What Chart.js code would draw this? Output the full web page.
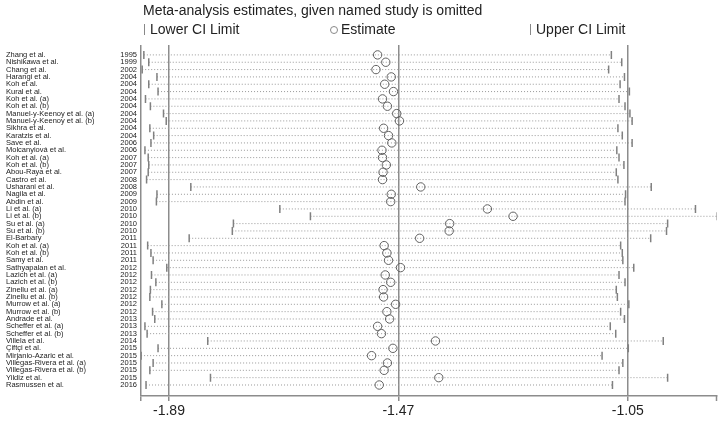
<!DOCTYPE html>
<html>
<head>
<meta charset="utf-8">
<script src="https://cdn.jsdelivr.net/npm/chart.js@4"></script>
<style>
  html, body { margin: 0; padding: 0; background: #fff; }
  #wrap { width: 722px; height: 422px; position: relative; }
</style>
</head>
<body>
<div id="wrap"><canvas id="chart"></canvas></div>
<script>
const studies = [
  'Zhang et al.', 'Nishikawa et al.', 'Chang et al.', 'Harangi et al.', 'Koh et al.', 'Kural et al.',
  'Koh et al. (a)', 'Koh et al. (b)', 'Manuel-y-Keenoy et al. (a)', 'Manuel-y-Keenoy et al. (b)',
  'Sikhra et al.', 'Karatzis et al.', 'Save et al.', 'Molcanyiová et al.', 'Koh et al. (a)', 'Koh et al. (b)',
  'Abou-Raya et al.', 'Castro et al.', 'Usharani et al.', 'Nagila et al.', 'Abdin et al.', 'Li et al. (a)',
  'Li et al. (b)', 'Su et al. (a)', 'Su et al. (b)', 'El-Barbary', 'Koh et al. (a)', 'Koh et al. (b)',
  'Samy et al.', 'Sathyapalan et al.', 'Lazich et al. (a)', 'Lazich et al. (b)', 'Zinellu et al. (a)',
  'Zinellu et al. (b)', 'Murrow et al. (a)', 'Murrow et al. (b)', 'Andrade et al.', 'Scheffer et al. (a)',
  'Scheffer et al. (b)', 'Villela et al.', 'Çiftçi et al.', 'Mirjanio-Azaric et al.',
  'Villegas-Rivera et al. (a)', 'Villegas-Rivera et al. (b)', 'Yildiz et al.', 'Rasmussen et al.'
]
const years = [
  1995, 1999, 2002, 2004, 2004, 2004, 2004, 2004, 2004, 2004, 2004, 2004, 2006, 2006, 2007, 2007,
  2007, 2008, 2008, 2009, 2009, 2010, 2010, 2010, 2010, 2011, 2011, 2011, 2011, 2012, 2012, 2012,
  2012, 2012, 2012, 2012, 2013, 2013, 2013, 2014, 2015, 2015, 2015, 2015, 2015, 2016
]
const lowerCI = [
  -1.936, -1.927, -1.939, -1.912, -1.927, -1.910, -1.933, -1.924, -1.900, -1.895, -1.925, -1.918,
  -1.923, -1.934, -1.928, -1.927, -1.928, -1.931, -1.850, -1.912, -1.913, -1.687, -1.631, -1.772,
  -1.774, -1.853, -1.929, -1.923, -1.919, -1.894, -1.922, -1.914, -1.924, -1.925, -1.903, -1.920,
  -1.916, -1.934, -1.930, -1.819, -1.910, -1.941, -1.919, -1.925, -1.814, -1.932
]
const estimates = [
  -1.508, -1.493, -1.511, -1.483, -1.495, -1.479, -1.499, -1.490, -1.473, -1.468, -1.497, -1.488,
  -1.482, -1.500, -1.499, -1.492, -1.498, -1.499, -1.429, -1.483, -1.484, -1.307, -1.260, -1.376,
  -1.377, -1.431, -1.496, -1.491, -1.488, -1.466, -1.494, -1.484, -1.498, -1.497, -1.475, -1.491,
  -1.486, -1.508, -1.501, -1.402, -1.480, -1.519, -1.490, -1.496, -1.396, -1.505
]
const upperCI = [
  -1.080, -1.061, -1.085, -1.056, -1.064, -1.047, -1.066, -1.055, -1.046, -1.042, -1.068, -1.060,
  -1.042, -1.070, -1.066, -1.057, -1.071, -1.068, -1.007, -1.054, -1.055, -0.926, -0.887, -0.977,
  -0.979, -1.008, -1.063, -1.060, -1.059, -1.039, -1.066, -1.055, -1.071, -1.069, -1.048, -1.063,
  -1.056, -1.082, -1.072, -0.985, -1.049, -1.097, -1.059, -1.066, -0.977, -1.078
]
const xTicks = [-1.89, -1.47, -1.05]
const xMin = -1.9412, xMax = -0.8875

const FONT = '"Liberation Sans", Arial, sans-serif'
const GRID = '#8c8c8c'

// dotted CI lines, title, legend
const forestPlugin = {
  id: 'forestPlugin',
  beforeDatasetsDraw(chart) {
    const { ctx, scales: { x, y } } = chart
    ctx.save()
    ctx.strokeStyle = '#999'
    ctx.lineWidth = 1
    ctx.setLineDash([1, 2])
    studies.forEach((s, i) => {
      const py = y.getPixelForValue(i)
      ctx.beginPath()
      ctx.moveTo(x.getPixelForValue(lowerCI[i]), py)
      ctx.lineTo(x.getPixelForValue(upperCI[i]), py)
      ctx.stroke()
    })
    ctx.restore()
  },
  afterDraw(chart) {
    const { ctx, chartArea } = chart
    ctx.save()
    // right end tick of the axis
    ctx.strokeStyle = GRID
    ctx.lineWidth = 1.5
    ctx.beginPath()
    ctx.moveTo(chartArea.right, chartArea.bottom)
    ctx.lineTo(chartArea.right, chartArea.bottom + 5)
    ctx.stroke()

    ctx.fillStyle = '#222'
    ctx.textBaseline = 'middle'
    ctx.font = '14px ' + FONT
    ctx.fillText('Meta-analysis estimates, given named study is omitted', 143, 11)

    ctx.lineWidth = 1
    ctx.strokeStyle = '#888'
    ctx.beginPath()
    ctx.moveTo(144.5, 24); ctx.lineTo(144.5, 35)
    ctx.moveTo(530.5, 24); ctx.lineTo(530.5, 35)
    ctx.stroke()
    ctx.beginPath()
    ctx.arc(334, 30, 3.5, 0, Math.PI * 2)
    ctx.stroke()
    ctx.fillText('Lower CI Limit', 150, 30)
    ctx.fillText('Estimate', 341, 30)
    ctx.fillText('Upper CI Limit', 536, 30)
    ctx.restore()
  }
}

const yBase = {
  type: 'linear',
  position: 'left',
  reverse: true,
  min: -1.35,
  max: 46.5,
  afterBuildTicks: s => { s.ticks = studies.map((_, i) => ({ value: i })) },
  grid: { display: false, drawTicks: false },
  border: { display: false }
}

new Chart(document.getElementById('chart'), {
  type: 'scatter',
  plugins: [forestPlugin],
  data: {
    datasets: [
      {
        label: 'Lower CI Limit',
        data: lowerCI.map((v, i) => ({ x: v, y: i })),
        pointStyle: 'line',
        pointRotation: 90,
        pointRadius: 4,
        pointBorderWidth: 1.5,
        pointBorderColor: '#808080',
        borderColor: '#808080'
      },
      {
        label: 'Upper CI Limit',
        data: upperCI.map((v, i) => ({ x: v, y: i })),
        pointStyle: 'line',
        pointRotation: 90,
        pointRadius: 4,
        pointBorderWidth: 1.5,
        pointBorderColor: '#808080',
        borderColor: '#808080'
      },
      {
        label: 'Estimate',
        data: estimates.map((v, i) => ({ x: v, y: i })),
        pointStyle: 'circle',
        pointRadius: 4.2,
        pointBorderWidth: 1,
        pointBorderColor: '#606060',
        pointBackgroundColor: 'rgba(255,255,255,0)',
        borderColor: '#606060'
      }
    ]
  },
  options: {
    responsive: true,
    maintainAspectRatio: false,
    animation: false,
    layout: { padding: { top: 45, left: 6, right: 4, bottom: 0 } },
    plugins: { legend: { display: false }, tooltip: { enabled: false } },
    scales: {
      x: {
        type: 'linear',
        min: xMin,
        max: xMax,
        afterBuildTicks: s => { s.ticks = [xMin, ...xTicks].map(v => ({ value: v })) },
        ticks: {
          callback: v => xTicks.includes(v) ? v.toFixed(2) : '',
          autoSkip: false,
          maxRotation: 0,
          padding: 2,
          color: '#222',
          font: { size: 14, family: FONT }
        },
        grid: { color: GRID, lineWidth: 1.5, tickLength: 5 },
        border: { color: GRID, width: 1.5 },
        afterFit: s => { s.height = 26 }
      },
      y: {
        ...yBase,
        weight: 1,
        ticks: {
          callback: v => studies[v],
          crossAlign: 'far',
          autoSkip: false,
          padding: 0,
          color: '#222',
          font: { size: 7.5, family: FONT }
        },
        afterFit: s => { s.width = 100 }
      },
      yYear: {
        ...yBase,
        weight: 0,
        ticks: {
          callback: v => years[v],
          crossAlign: 'near',
          autoSkip: false,
          padding: 4,
          color: '#222',
          font: { size: 7.5, family: FONT }
        },
        afterFit: s => { s.width = 35 }
      }
    }
  }
})
</script>
</body>
</html>
